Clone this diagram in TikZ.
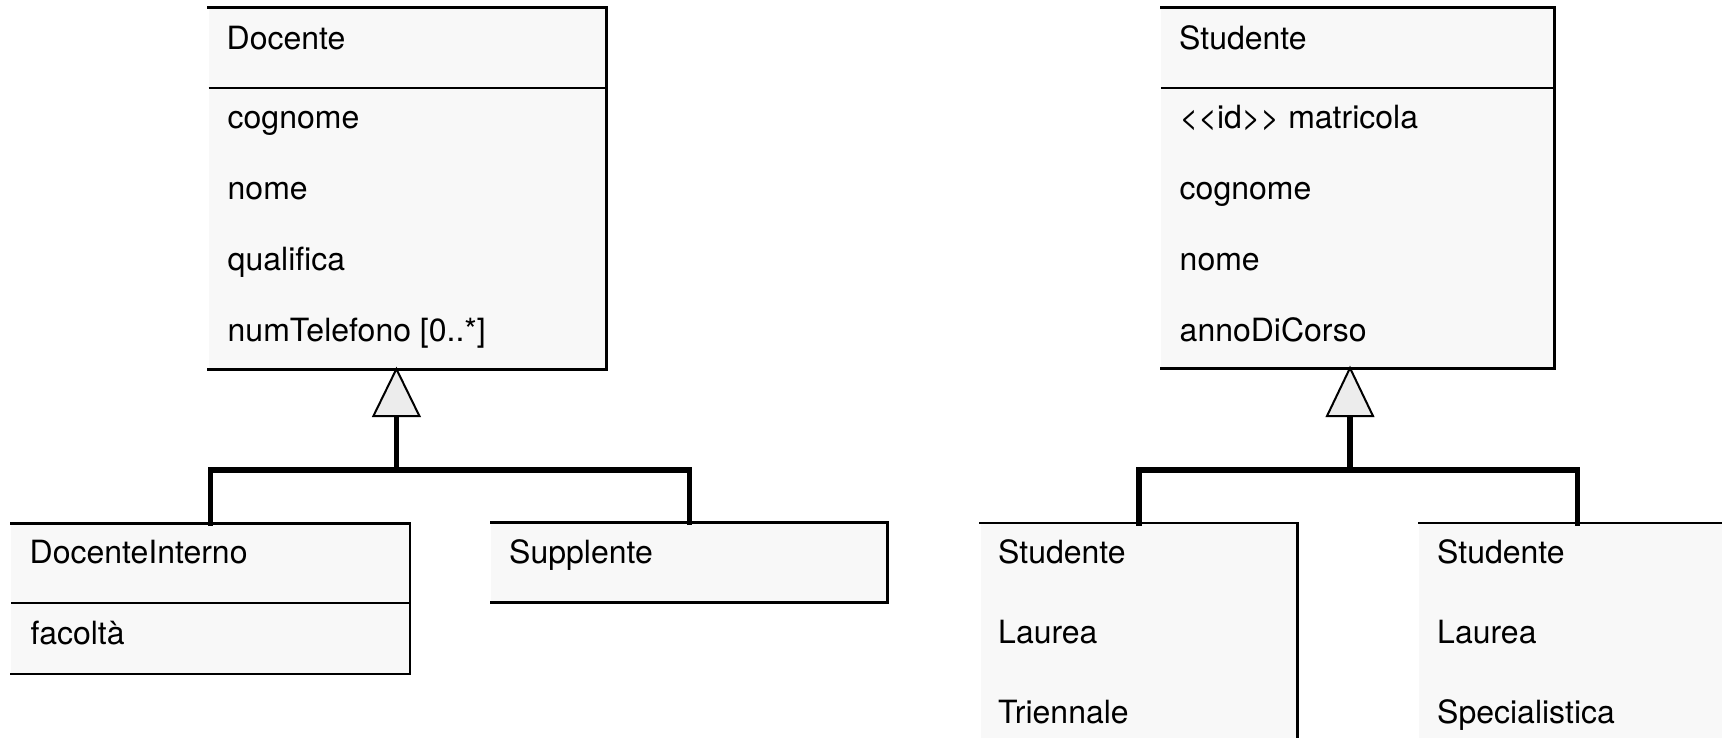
\documentclass[tikz,border=0pt]{standalone}
\usepackage{fontspec}
\setmainfont{TeX Gyre Heros}
\definecolor{boxfill}{HTML}{F8F8F8}
\definecolor{trifill}{HTML}{ECECEC}
\tikzset{
  classbox/.style={fill=boxfill, draw=none, inner sep=0pt, anchor=north west},
  edge/.style={line width=2.6pt, line cap=rect, line join=miter},
  sepline/.style={line width=2.3pt},
  lbl/.style={anchor=base west, inner sep=0pt, font=\fontsize{32}{38}\selectfont},
  genline/.style={line width=5.5pt, line cap=rect, line join=miter},
  gentri/.style={fill=trifill, draw, line width=2pt, line join=miter},
}
\begin{document}
\begin{tikzpicture}[x=1pt,y=-1pt]
\useasboundingbox (0,0) rectangle (1722,737);
\clip (0,0) rectangle (1722,737);

% ---------- Docente hierarchy ----------
\node[classbox, minimum width=397.5pt, minimum height=361.3pt] (doc) at (208.7,7.7) {};
\draw[edge] (doc.north west) -- (doc.north east) -- (doc.south east) -- (doc.south west);
\draw[sepline] ([yshift=-80.2pt]doc.north west) -- ([yshift=-80.2pt]doc.north east);
\node[lbl] (docT) at (226.5,49) {Docente};
\node[lbl] (docA1) at (227.5,128) {cognome};
\node[lbl] (docA2) at (227.5,199) {nome};
\node[lbl] (docA3) at (227.5,270) {qualifica};
\node[lbl] (docA4) at (227.5,341) {numTelefono [0..*]};

\node[classbox, minimum width=398.6pt, minimum height=150pt] (dint) at (11,523.5) {};
\draw[edge] (dint.north west) -- (dint.north east) -- (dint.south east) -- (dint.south west);
\draw[sepline] ([yshift=-79.5pt]dint.north west) -- ([yshift=-79.5pt]dint.north east);
\node[lbl] (dintT) at (29.5,563) {DocenteInterno};
\node[lbl] (dintA1) at (30.5,644) {facoltà};

\node[classbox, minimum width=396.3pt, minimum height=79.3pt] (supp) at (491,522.7) {};
\draw[edge] (supp.north west) -- (supp.north east) -- (supp.south east) -- (supp.south west);
\node[lbl] (suppT) at (509,563) {Supplente};

\coordinate (docApex) at (396.4,369);
\coordinate (docBase) at (396.4,416);
\coordinate (docJoin) at (396.4,470);
\draw[genline] (dint.north) |- (docJoin) -| (supp.north);
\draw[genline] (docJoin) -- (docBase);
\draw[gentri] (docApex) -- ([xshift=-23pt]docBase) -- ([xshift=23pt]docBase) -- cycle;

% ---------- Studente hierarchy ----------
\node[classbox, minimum width=393.2pt, minimum height=360.3pt] (stu) at (1160.8,7.7) {};
\draw[edge] (stu.north west) -- (stu.north east) -- (stu.south east) -- (stu.south west);
\draw[sepline] ([yshift=-80.2pt]stu.north west) -- ([yshift=-80.2pt]stu.north east);
\node[lbl] (stuT) at (1179,49) {Studente};
\node[lbl] (stuA1) at (1179.5,128) {<\kern0pt<id>\kern0pt> matricola};
\node[lbl] (stuA2) at (1179.5,199) {cognome};
\node[lbl] (stuA3) at (1179.5,270) {nome};
\node[lbl] (stuA4) at (1179.5,341) {annoDiCorso};

\node[classbox, minimum width=316.3pt, minimum height=260pt] (slt) at (980.7,523) {};
\draw[edge] (slt.north west) -- (slt.north east) -- (slt.south east);
\node[lbl] (sltT1) at (998,563) {Studente};
\node[lbl] (sltT2) at (998,643) {Laurea};
\node[lbl] (sltT3) at (998,723) {Triennale};

\node[classbox, minimum width=316.3pt, minimum height=260pt] (sls) at (1419,523) {};
\draw[edge] (sls.north west) -- (sls.north east) -- (sls.south east);
\node[lbl] (slsT1) at (1437,563) {Studente};
\node[lbl] (slsT2) at (1437,643) {Laurea};
\node[lbl] (slsT3) at (1437,723) {Specialistica};

\coordinate (stuApex) at (1350,368);
\coordinate (stuBase) at (1350,416);
\coordinate (stuJoin) at (1350,470);
\draw[genline] (slt.north) |- (stuJoin) -| (sls.north);
\draw[genline] (stuJoin) -- (stuBase);
\draw[gentri] (stuApex) -- ([xshift=-23pt]stuBase) -- ([xshift=23pt]stuBase) -- cycle;
\end{tikzpicture}
\end{document}
